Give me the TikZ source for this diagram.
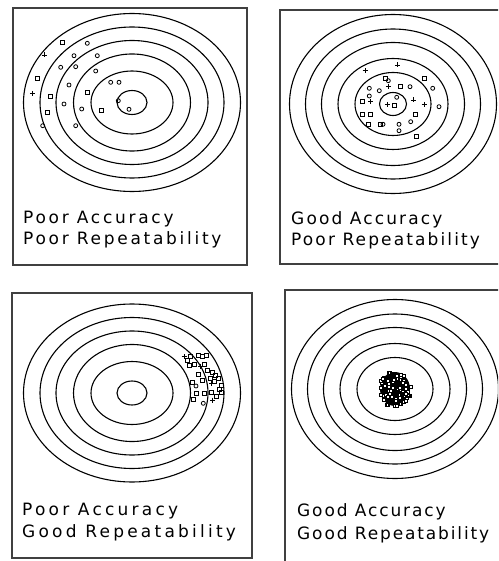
\documentclass[tikz,border=0pt]{standalone}
\usepackage{fontspec}
\newfontfamily\capfont{DejaVu Sans}
\usetikzlibrary{positioning}

\begin{document}
\begin{tikzpicture}[
    x=1pt, y=-1pt,
    frame/.style={draw=black!75, line width=1.3pt},
    ring/.style={draw, line width=1.1pt},
    mk/.style={draw, line width=0.8pt},
    caption/.style={font=\capfont\addfontfeatures{LetterSpace=#1}\fontsize{17}{21}\selectfont,
                    anchor=base west, inner sep=0pt},
    caption/.default=16
  ]
  \useasboundingbox (0,0) rectangle (498,561);
  \clip (0,0) rectangle (498,561);

  % ===== frames =====
  \draw[frame] (13,8) rectangle (247,265);
  \draw[frame] (280,10) rectangle (500,264);
  \draw[frame] (12,293) rectangle (252,558);
  \draw[frame] (285,290) rectangle (500,563);

  % ===== target centres =====
  \coordinate (tA) at (132,102.5);
  \coordinate (tB) at (393,104);
  \coordinate (tC) at (132,393);
  \coordinate (tD) at (395,389);

  % ===== rings =====
  \foreach \t in {tA,tC}
    \foreach \rx/\ry in {108.5/89, 92/75.5, 76/62, 58.5/48.5, 41/31.5, 15/12}
      \draw[ring] (\t) ellipse[x radius=\rx pt, y radius=\ry pt];
  \foreach \t in {tB,tD}
    \foreach \rx/\ry in {103.5/89.5, 87.5/75, 71.5/61.5, 55/45.5, 38/31.5, 13.5/11.5}
      \draw[ring] (\t) ellipse[x radius=\rx pt, y radius=\ry pt];

  % ===== poor accuracy, poor repeatability =====
  \foreach \x/\y in {62.3/42.3, 37.3/78.3, 50.7/96, 87.3/92.7, 101.7/110.7, 47.3/112.3}
    \draw[mk] (\x-2,\y-2) rectangle (\x+2,\y+2);
  \foreach \x/\y in {87.3/43.3, 74/55.7, 97.3/55.7, 60.7/67.3, 75.7/66.7, 95.7/71,
                     110.7/82.3, 119/82.3, 69/85, 118.3/100.7, 64/104, 81.7/109,
                     129/109.3, 42.7/125.7, 75.7/125.7}
    \draw[mk] (\x,\y) circle[radius=2pt];
  \foreach \x/\y in {44/55, 32.3/93.3}
    \draw[mk] (\x-2.5,\y) -- (\x+2.5,\y) (\x,\y-2.5) -- (\x,\y+2.5);

  % ===== good accuracy, poor repeatability =====
  \foreach \x/\y in {385/78.3, 424.3/78.3, 400.7/86.7, 362.7/101.7, 394.3/105.7,
                     362.7/114, 370.7/114, 415.7/114, 368.3/124.3, 380/124, 416.7/136}
    \draw[mk] (\x-2,\y-2) rectangle (\x+2,\y+2);
  \foreach \x/\y in {388.3/80.7, 369.3/88.3, 379.3/90.7, 410/86.7, 432.7/88.3,
                     369.3/96, 396.7/97.3, 439/106.7, 410.7/121.7, 383/124.3,
                     399/124.3, 399/130.7}
    \draw[mk] (\x,\y) circle[radius=2pt];
  \foreach \x/\y in {365/70.7, 397.3/65, 388.3/86.7, 370.7/101.7, 413.3/100,
                     387.3/104.3, 424/104.3}
    \draw[mk] (\x-2.5,\y) -- (\x+2.5,\y) (\x,\y-2.5) -- (\x,\y+2.5);

  % ===== poor accuracy, good repeatability =====
  \foreach \x/\y in {190.7/356, 198.3/355, 202.3/356.7, 206.7/355, 189.3/365,
                     194.3/364, 204.3/364, 212.7/372.3, 215.7/375, 198.3/374.3,
                     202.7/380.7, 210.7/378.3, 192.7/382.7, 214/381.7, 219.3/389.3,
                     221.7/385, 196.7/393.3, 204/393.3, 211.7/392.7, 216/396.7,
                     193.3/399.3, 218/378, 207/370, 187/360, 221/392}
    \draw[mk] (\x-2,\y-2) rectangle (\x+2,\y+2);
  \foreach \x/\y in {203.3/403.3, 196/386}
    \draw[mk] (\x,\y) circle[radius=2pt];
  \foreach \x/\y in {184/356.7, 200.7/366, 211.7/383.3, 212.7/400}
    \draw[mk] (\x-2.5,\y) -- (\x+2.5,\y) (\x,\y-2.5) -- (\x,\y+2.5);

  % ===== good accuracy, good repeatability =====
  \fill (tD) ellipse[x radius=15pt, y radius=17pt];
  \pgfmathsetseed{42}
  \foreach \k in {1,...,70} {
    \pgfmathsetmacro\ang{360*rnd}
    \pgfmathsetmacro\rad{sqrt(rnd)}
    \draw[mk, line width=1.1pt, fill=white, shift={(tD)}]
      ({16*\rad*cos(\ang)-1.5},{18*\rad*sin(\ang)-1.5}) rectangle ++(3,3);
  }

  % ===== captions =====
  \node[caption] (accA) at (23,223) {Poor Accuracy};
  \node[caption] (repA) at (23,244) {Poor Repeatability};
  \node[caption=12.5] (accB) at (291,224) {Good Accuracy};
  \node[caption=12.5] (repB) at (291,245) {Poor Repeatability};
  \node[caption=19] (accC) at (22,515) {Poor Accuracy};
  \node[caption=19] (repC) at (22,537) {Good Repeatability};
  \node[caption=11] (accD) at (297,516) {Good Accuracy};
  \node[caption=11] (repD) at (297,539) {Good Repeatability};

\end{tikzpicture}
\end{document}
